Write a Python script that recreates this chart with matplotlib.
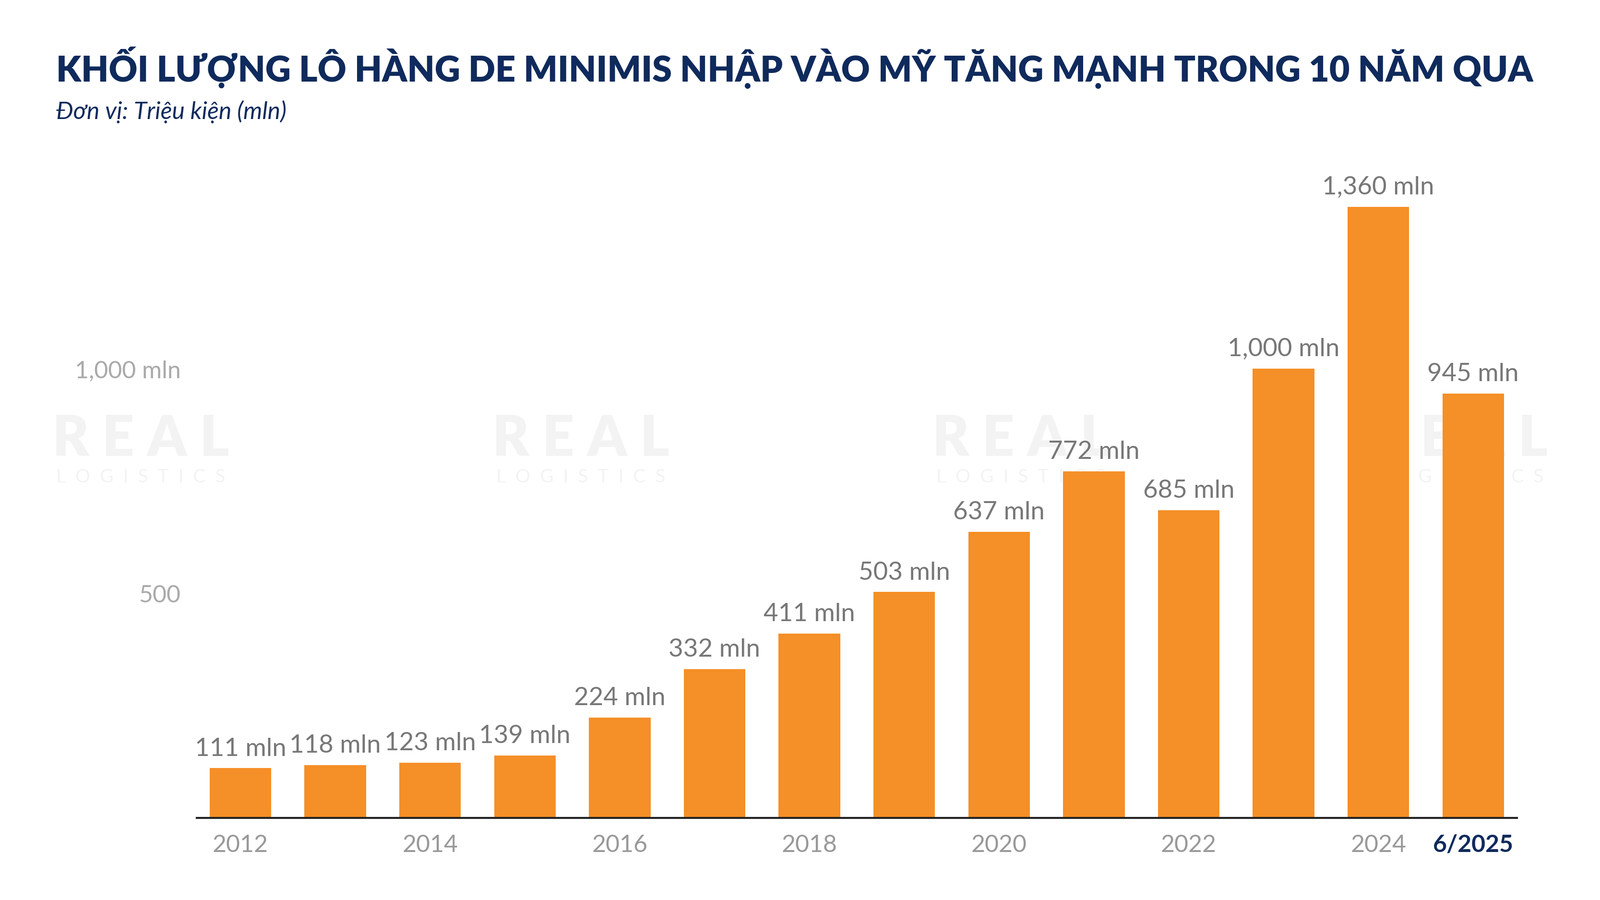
import matplotlib
matplotlib.use("Agg")
import matplotlib.pyplot as plt

years = ["2012","2013","2014","2015","2016","2017","2018","2019","2020","2021","2022","2023","2024","6/2025"]
values = [111,118,123,139,224,332,411,503,637,772,685,1000,1360,945]
labels = ["111 mln","118 mln","123 mln","139 mln","224 mln","332 mln","411 mln","503 mln","637 mln","772 mln","685 mln","1,000 mln","1,360 mln","945 mln"]
tick_labels = ["2012","","2014","","2016","","2018","","2020","","2022","","2024","6/2025"]

navy = "#0f2a5c"
orange = "#f58f27"
font = "Lato"

fig = plt.figure(figsize=(16.67, 9.375), dpi=200)
ax = fig.add_axes([0.123, 0.091, 0.825, 0.699])
ax.set_facecolor("none")
ax.set_zorder(2)
x = list(range(len(values)))
ax.bar(x, values, width=0.65, color=orange, zorder=2)
for xi, v, l in zip(x, values, labels):
    ax.text(xi, v + 18, l, ha="center", va="bottom", fontsize=19, color="#777777", family=font)
ax.set_xlim(-0.46, 13.46)
ax.set_ylim(0, 1400)
ax.set_xticks(x)
ax.set_xticklabels(tick_labels, fontsize=18, color="#999999", family=font)
tl = ax.get_xticklabels()[-1]
tl.set_color(navy); tl.set_fontweight("bold")
ax.tick_params(axis="x", length=0, pad=12)
ax.set_yticks([500, 1000])
ax.set_yticklabels(["500", "1,000 mln"], fontsize=18, color="#aaaaaa", family=font)
ax.tick_params(axis="y", length=0, pad=12)
for s in ["top", "right", "left"]:
    ax.spines[s].set_visible(False)
ax.spines["bottom"].set_color("#222222")
ax.spines["bottom"].set_linewidth(1.5)

for wx in [0.088, 0.363, 0.638, 0.912]:
    fig.text(wx, 0.512, "R E A L", ha="center", va="center", fontsize=42, fontweight="black",
             color="#f3f3f3", family=font, zorder=0)
    fig.text(wx, 0.47, "L  O  G  I  S  T  I  C  S", ha="center", va="center", fontsize=14,
             color="#f3f3f3", family=font, zorder=0)

fig.text(0.035, 0.925, "KHỐI LƯỢNG LÔ HÀNG DE MINIMIS NHẬP VÀO MỸ TĂNG MẠNH TRONG 10 NĂM QUA",
         fontsize=26.5, fontweight="black", color=navy, family=font, va="center")
fig.text(0.035, 0.876, "Đơn vị: Triệu kiện (mln)", fontsize=18, style="italic",
         color=navy, family=font, va="center")
fig.savefig("out.png", dpi=200)
